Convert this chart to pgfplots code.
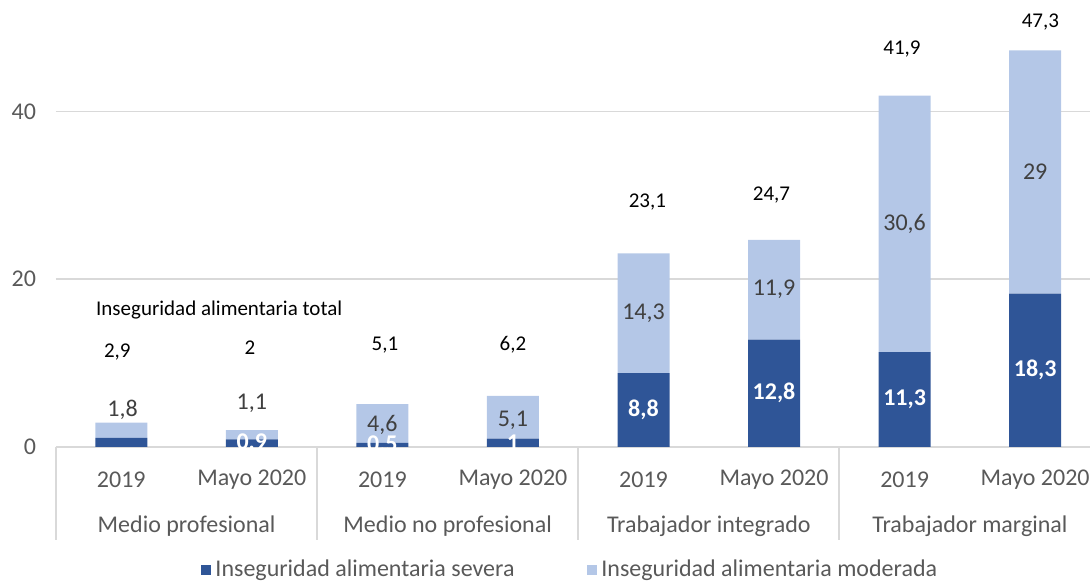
\documentclass[border=0pt]{standalone}
\usepackage{fontspec}
\setmainfont{Carlito}
\usepackage{pgfplots}
\pgfplotsset{compat=1.18}
\usepackage{pgfplotstable}
\definecolor{sev}{HTML}{2F5597}
\definecolor{mod}{HTML}{B4C7E7}
\definecolor{txtgray}{HTML}{595959}
\definecolor{lblgray}{HTML}{404040}
\definecolor{gridgray}{HTML}{D9D9D9}

\pgfplotstableread{
x sev mod
0 1.1 1.8
1 0.9 1.1
2 0.5 4.6
3 1.0 5.1
4 8.8 14.3
5 12.8 11.9
6 11.3 30.6
7 18.3 29.0
}\bars

\pgfplotstableread{
x y lab
-0.03 11.3 2,9
0.985 11.9 2
2.02 12.2 5,1
3.0 12.2 6,2
4.03 29.2 23,1
4.98 30.0 24,7
5.98 47.4 41,9
7.04 50.7 47,3
}\totals

\pgfplotstableread{
x y lab
0.01 4.4 1,8
1.0 5.2 1,1
2.0 2.6 4,6
3.0 3.2 5,1
4.0 15.95 14,3
5.0 18.75 11,9
6.0 26.6 30,6
7.0 32.8 29
}\modlabels

\pgfplotstableread{
x y lab
1.0 0.45 0,9
2.0 0.25 0,5
3.0 0.5 1
4.0 4.4 8,8
5.0 6.4 12,8
6.0 5.65 11,3
7.0 9.15 18,3
}\sevlabels

\pgfplotsset{myaxis/.style={
  scale only axis, width=517pt, height=223.5pt,
  xmin=-0.5, xmax=7.42, ymin=0, ymax=53.3,
  at={(0,0)}, anchor=south west,
  axis line style={draw=none},
  /pgf/number format/assume math mode=true,
}}

\begin{document}
\begin{tikzpicture}
\begin{axis}[myaxis, name=ax,
  ybar stacked, bar width=26pt,
  ytick={0,20,40}, ymajorgrids, grid style={gridgray, line width=0.9pt},
  major tick length=0pt,
  xtick={0,...,7},
  xticklabels={2019,Mayo 2020,2019,Mayo 2020,2019,Mayo 2020,2019,Mayo 2020},
  xticklabel style={anchor=center, yshift=-16.5pt, font=\fontsize{12}{14}\selectfont, text=txtgray},
  yticklabel style={font=\fontsize{12}{14}\selectfont, text=txtgray, xshift=-6.5pt},
  extra x ticks={-0.5,1.5,3.5,5.5},
  extra x tick labels={},
  extra x tick style={major tick length=46.5pt, tick align=outside, tick style={gridgray, line width=0.9pt}},
  xtick pos=left, ytick pos=left,
  legend style={at={(0.498,0)}, anchor=center, yshift=-61.5pt, draw=none, fill=none,
    font=\fontsize{12}{14}\selectfont, text=txtgray, legend columns=2, inner sep=0pt,
    /tikz/every even column/.append style={column sep=34pt}},
]
\addplot[fill=sev, draw=none, legend image code/.code={\fill[sev] (0pt,-2.7pt) rectangle (5.4pt,2.7pt);}] table[x=x,y=sev]{\bars};
\addlegendentry{Inseguridad alimentaria severa}
\addplot[fill=mod, draw=none, legend image code/.code={\fill[mod] (0pt,-2.7pt) rectangle (5.4pt,2.7pt);}] table[x=x,y=mod]{\bars};
\addlegendentry{Inseguridad alimentaria moderada}
\end{axis}

\begin{axis}[myaxis,
  ytick=\empty, major tick length=0pt,
  xtick={0.5,2.5,4.5,6.5},
  xticklabels={Medio profesional,Medio no profesional,Trabajador integrado,Trabajador marginal},
  xticklabel style={anchor=center, yshift=-39.5pt, font=\fontsize{12}{14}\selectfont, text=txtgray},
  point meta=explicit symbolic,
  nodes near coords align=center,
]
\addplot[only marks, mark=none, nodes near coords,
  nodes near coords style={font=\fontsize{10.5}{12}\selectfont, text=black, anchor=center}]
  table[x=x,y=y,meta=lab]{\totals};
\addplot[only marks, mark=none, nodes near coords,
  nodes near coords style={font=\fontsize{12}{14}\selectfont, text=lblgray, anchor=center}]
  table[x=x,y=y,meta=lab]{\modlabels};
\addplot[only marks, mark=none, nodes near coords,
  nodes near coords style={font=\fontsize{12}{14}\selectfont\bfseries, text=white, anchor=center}]
  table[x=x,y=y,meta=lab]{\sevlabels};
\node[font=\fontsize{10.5}{12}\selectfont, text=black] at (axis cs:0.75,16.3) {Inseguridad alimentaria total};
\end{axis}

\pgfresetboundingbox
\path (ax.south west) ++(-28pt,-70pt) rectangle (ax.north east);
\end{tikzpicture}
\end{document}
